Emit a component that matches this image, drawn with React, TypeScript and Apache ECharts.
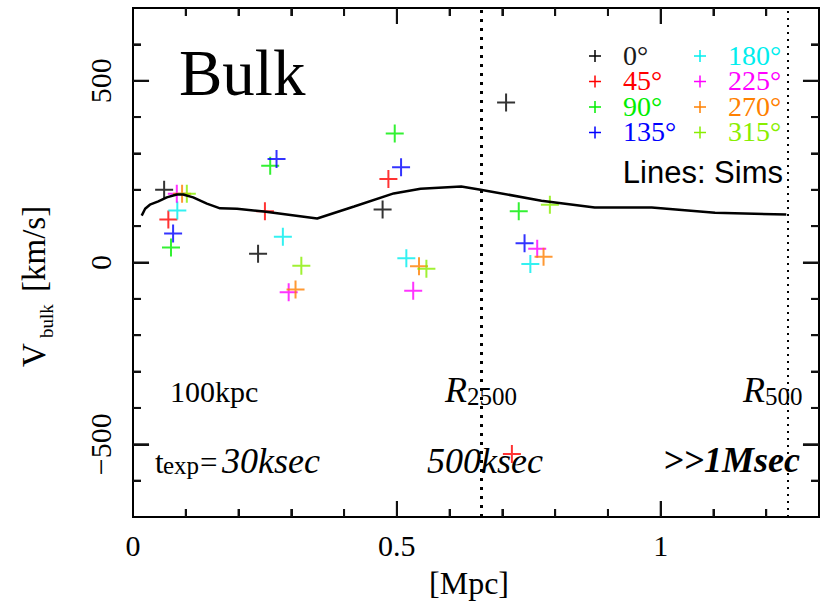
import { useEffect, useRef } from 'react';
import * as echarts from 'echarts';

// Projection angles and their colours
const ANGLES = ['0°', '45°', '90°', '135°', '180°', '225°', '270°', '315°'];
const ANGLE_COLORS = ['#000000', '#ff0000', '#00ee00', '#0000ff', '#00eeee', '#ff00ff', '#ff8000', '#88ee00'];
const LEGEND_TEXT_COLORS = ['#1a1a1a', '#ff0000', '#00ee00', '#0000ff', '#00eeee', '#ff00ff', '#ff8000', '#88ee00'];

// Measured bulk velocities per projection: radius [Mpc], V_bulk [km/s]
const R_0 = [0.059, 0.237, 0.473, 0.707];
const V_0 = [200, 24, 146, 440];
const R_45 = [0.067, 0.250, 0.484, 0.718];
const V_45 = [118, 141, 230, -527];
const R_90 = [0.072, 0.260, 0.496, 0.731];
const V_90 = [41, 266, 355, 141];
const R_135 = [0.076, 0.272, 0.508, 0.742];
const V_135 = [80, 285, 262, 53];
const R_180 = [0.084, 0.284, 0.518, 0.753];
const V_180 = [143, 71, 12, -4];
const R_225 = [0.083, 0.295, 0.531, 0.766];
const V_225 = [189, -82, -78, 38];
const R_270 = [0.093, 0.308, 0.542, 0.778];
const V_270 = [189, -74, -10, 16];
const R_315 = [0.102, 0.319, 0.556, 0.790];
const V_315 = [189, -9, -17, 159];

const RADII = [R_0, R_45, R_90, R_135, R_180, R_225, R_270, R_315];
const VELOCITIES = [V_0, V_45, V_90, V_135, V_180, V_225, V_270, V_315];

// Simulated bulk velocity profile
const SIM_R = [0.0165, 0.023, 0.032, 0.048, 0.064, 0.083, 0.095, 0.114, 0.140, 0.165, 0.197, 0.248, 0.349, 0.419, 0.494, 0.545, 0.622, 0.656, 0.774, 0.875, 0.983, 1.103, 1.238];
const SIM_V = [129, 148, 159, 168, 179, 187, 187, 179, 162, 149, 148, 140, 121, 154, 190, 203, 209, 201, 170, 151, 151, 137, 132];

// Characteristic radii [Mpc]
const R2500 = 0.658;
const R500 = 1.238;

// Axis ranges, ticks and labels
const X_MIN = 0;
const X_MAX = 1.3;
const X_TICKS = [0.1, 0.2, 0.3, 0.4, 0.5, 0.6, 0.7, 0.8, 0.9, 1.0, 1.1, 1.2];
const X_MAJOR = [0.5, 1.0];
const X_LABELS = ['0', '0.5', '1'];
const Y_MIN = -700;
const Y_MAX = 700;
const Y_TICKS = [-600, -500, -400, -300, -200, -100, 0, 100, 200, 300, 400, 500, 600];
const Y_MAJOR = [-500, 0, 500];
const Y_LABELS = ['\u2212500', '0', '500'];

// Tick lengths in pixels, and the same lengths in data units for the marker segments
const MINOR_LEN = 8;
const MAJOR_LEN = 16;
const X_TICK_MINOR_V = 22;
const X_TICK_MAJOR_V = 44;
const Y_TICK_MINOR_R = 0.0152;
const Y_TICK_MAJOR_R = 0.0304;

const SERIF = '"Liberation Serif", "Times New Roman", serif';
const SANS = '"Liberation Sans", Arial, sans-serif';
const CROSS = 'path://M10,0L10,20M0,10L20,10';
const INK = '#111';

// Text placed by its baseline
function txt(x: number, baseline: number, text: string, size: number, extra: any = {}) {
  return {
    type: 'text',
    x,
    y: baseline - 0.34 * size,
    silent: true,
    z: 20,
    style: {
      text,
      fontSize: size,
      fontFamily: SERIF,
      fill: '#000',
      align: 'left',
      verticalAlign: 'middle',
      ...extra,
    },
  };
}

// Key: a small cross and the angle, two columns of four
function legendEntry(i: number) {
  const col = i < 4 ? 0 : 1;
  const row = i % 4;
  const cx = 595 + col * 105;
  const cy = 56 + row * 25.5;
  const c = ANGLE_COLORS[i];
  return [
    { type: 'rect', silent: true, z: 20, shape: { x: cx - 6, y: cy - 0.75, width: 12, height: 1.5 }, style: { fill: c } },
    { type: 'rect', silent: true, z: 20, shape: { x: cx - 0.75, y: cy - 6, width: 1.5, height: 12 }, style: { fill: c } },
    txt(623 + col * 105, 65 + row * 25.5, ANGLES[i], 28, { fill: LEGEND_TEXT_COLORS[i] }),
  ];
}

const GRAPHICS = [
  ...ANGLES.flatMap((_, i) => legendEntry(i)),
  txt(179, 95, 'Bulk', 65),
  { ...txt(783, 183, 'Lines: Sims', 31, { fontFamily: SANS, align: 'right' }), y: 183 - 0.35 * 31 },
  txt(170, 402, '100kpc', 30),
  txt(445, 402, 'R', 36, { fontStyle: 'italic' }),
  txt(467, 405, '2500', 25),
  txt(743, 402, 'R', 36, { fontStyle: 'italic' }),
  txt(765, 405, '500', 25),
  txt(155, 473, 't', 31),
  txt(163, 474, 'exp', 25),
  txt(200, 473, '=', 31),
  txt(222, 473, '30ksec', 36, { fontStyle: 'italic' }),
  txt(427, 473, '500ksec', 36, { fontStyle: 'italic' }),
  txt(663, 472, '>>1Msec', 36, { fontStyle: 'italic', fontWeight: 'bold' }),
  txt(469, 594, '[Mpc]', 32, { align: 'center' }),
  {
    type: 'group',
    x: 45,
    y: 367,
    rotation: Math.PI / 2,
    silent: true,
    children: [txt(0, 0, 'V', 33), txt(29, 8, 'bulk', 19), txt(75, 0, '[km/s]', 33)],
  },
];

// One custom series per frame side; each item draws a single inward tick
type Side = 'bottom' | 'top' | 'left' | 'right';
function tickSeries(side: Side) {
  const isX = side === 'bottom' || side === 'top';
  const data = isX ? X_TICKS.map((v) => [v, 0]) : Y_TICKS.map((v) => [0.5, v]);
  return {
    name: 'ticks-' + side,
    type: 'custom',
    clip: false,
    renderItem: (_p: any, api: any) => {
      if (isX) {
        const v = api.value(0);
        const len = X_MAJOR.some((m) => Math.abs(m - v) < 1e-9) ? MAJOR_LEN : MINOR_LEN;
        const [x, y] = api.coord([v, side === 'bottom' ? Y_MIN : Y_MAX]);
        const top = side === 'bottom' ? y - len : y;
        return { type: 'rect', shape: { x: x - 1, y: top, width: 2, height: len }, style: { fill: INK } };
      }
      const v = api.value(1);
      const len = Y_MAJOR.includes(v) ? MAJOR_LEN : MINOR_LEN;
      const [x, y] = api.coord([side === 'left' ? X_MIN : X_MAX, v]);
      const left = side === 'left' ? x : x - len;
      return { type: 'rect', shape: { x: left, y: y - 1, width: len, height: 2 }, style: { fill: INK } };
    },
    data,
  };
}

// The same ticks as marker segments
const TICK_SEGMENTS = [
  ...X_TICKS.flatMap((v) => {
    const len = X_MAJOR.includes(v) ? X_TICK_MAJOR_V : X_TICK_MINOR_V;
    return [
      [{ coord: [v, Y_MIN] }, { coord: [v, Y_MIN + len] }],
      [{ coord: [v, Y_MAX] }, { coord: [v, Y_MAX - len] }],
    ];
  }),
  ...Y_TICKS.flatMap((v) => {
    const len = Y_MAJOR.includes(v) ? Y_TICK_MAJOR_R : Y_TICK_MINOR_R;
    return [
      [{ coord: [X_MIN, v] }, { coord: [X_MIN + len, v] }],
      [{ coord: [X_MAX, v] }, { coord: [X_MAX - len, v] }],
    ];
  }),
];

const xLabel = (v: number) => {
  const r = Math.round(v * 10) / 10;
  return r === 0 ? X_LABELS[0] : r === 0.5 ? X_LABELS[1] : r === 1 ? X_LABELS[2] : '';
};
const yLabel = (v: number) => {
  const r = Math.round(v);
  return r === -500 ? Y_LABELS[0] : r === 0 ? Y_LABELS[1] : r === 500 ? Y_LABELS[2] : '';
};

export default function App() {
  const ref = useRef<HTMLDivElement>(null);

  useEffect(() => {
    if (!ref.current) return;
    const chart = echarts.init(ref.current, null, { renderer: 'svg' });

    const scatterSeries = ANGLES.map((name, i) => ({
      name,
      type: 'scatter',
      symbol: CROSS,
      symbolSize: 18,
      itemStyle: { color: 'transparent', borderColor: ANGLE_COLORS[i], borderWidth: 2 },
      data: RADII[i].map((r, j) => [r, VELOCITIES[i][j]]),
    }));

    chart.setOption({
      animation: false,
      backgroundColor: '#fff',
      grid: { left: 133, right: 8, top: 8, bottom: 88, show: true, borderColor: '#000', borderWidth: 2 },
      xAxis: {
        type: 'value',
        min: X_MIN,
        max: X_MAX,
        interval: 0.1,
        axisLine: { show: false },
        axisTick: { show: false },
        axisLabel: {
          show: true,
          formatter: xLabel,
          fontFamily: SERIF,
          fontSize: 30,
          color: '#000',
          margin: 13,
        },
        splitLine: { show: false },
      },
      yAxis: {
        type: 'value',
        min: Y_MIN,
        max: Y_MAX,
        interval: 100,
        axisLine: { show: false },
        axisTick: { show: false },
        axisLabel: {
          show: true,
          rotate: 90,
          formatter: yLabel,
          fontFamily: SERIF,
          fontSize: 30,
          color: '#000',
          margin: 18,
        },
        splitLine: { show: false },
      },
      series: [
        tickSeries('bottom'),
        tickSeries('top'),
        tickSeries('left'),
        tickSeries('right'),
        {
          name: 'tick segments',
          type: 'line',
          data: [],
          markLine: {
            symbol: 'none',
            label: { show: false },
            lineStyle: { color: INK, type: 'solid', width: 2 },
            data: TICK_SEGMENTS,
          },
        },
        {
          name: 'Sims',
          type: 'line',
          symbol: 'none',
          lineStyle: { color: '#000', width: 2.5 },
          data: SIM_R.map((r, i) => [r, SIM_V[i]]),
          markLine: {
            silent: true,
            symbol: 'none',
            label: { show: false },
            lineStyle: { color: '#000', type: [3, 6], width: 3 },
            data: [{ xAxis: R2500 }, { xAxis: R500, lineStyle: { width: 2, type: [2, 5] } }],
          },
        },
        ...scatterSeries,
      ],
      graphic: GRAPHICS,
    });

    return () => chart.dispose();
  }, []);

  return (
    <div
      ref={ref}
      style={{ position: 'fixed', left: 0, top: 0, width: 827, height: 605, background: '#fff' }}
    />
  );
}
